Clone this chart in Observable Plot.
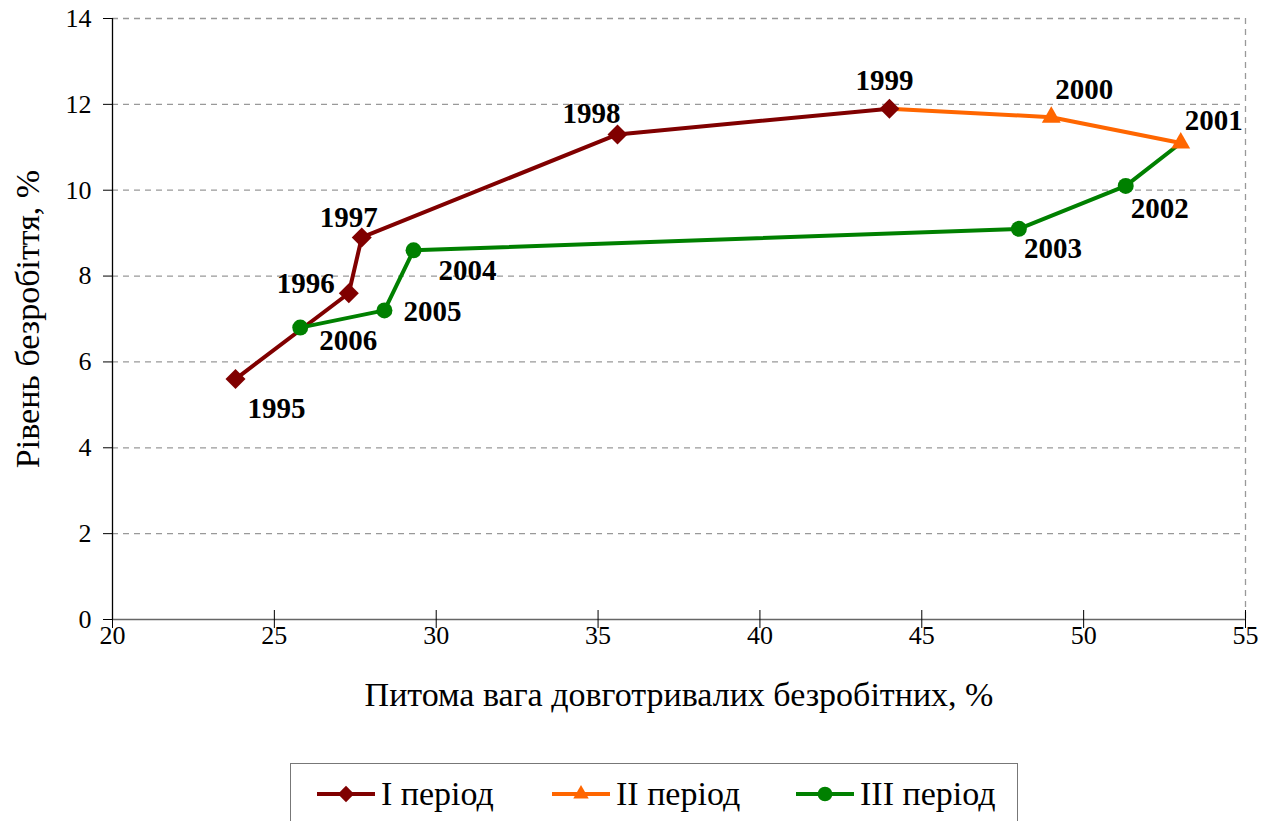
<!DOCTYPE html>
<html>
<head>
<meta charset="utf-8">
<script src="https://cdn.jsdelivr.net/npm/d3@7"></script>
<script src="https://cdn.jsdelivr.net/npm/@observablehq/plot@0.6"></script>
<style>
  body { margin: 0; background: #fff; font-family: 'Liberation Serif', serif; }
</style>
</head>
<body>
<div id="wrap" style="position:relative; width:1273px; height:821px; overflow:hidden;">
  <div id="chart"></div>
  <div id="legend" style="position:absolute; left:290px; top:763px; width:728px; height:80px; border:1.5px solid #777; box-sizing:border-box;"></div>
</div>
<script>
// ---- data ----
const years1 = [1995, 1996, 1997, 1998, 1999];
const share1 = [23.8, 27.3, 27.7, 35.6, 44.0];
const rate1  = [5.6, 7.6, 8.9, 11.3, 11.9];

const years2 = [1999, 2000, 2001];
const share2 = [44.0, 49.0, 53.0];
const rate2  = [11.9, 11.7, 11.1];

const years3 = [2001, 2002, 2003, 2004, 2005, 2006];
const share3 = [53.0, 51.3, 48.0, 29.3, 28.4, 25.8];
const rate3  = [11.1, 10.1, 9.1, 8.6, 7.2, 6.8];

const seriesNames = ["I період", "II період", "III період"];
const xTicks = [20, 25, 30, 35, 40, 45, 50, 55];
const yTicks = [0, 2, 4, 6, 8, 10, 12, 14];
const xTitle = "Питома вага довготривалих безробітних, %";
const yTitle = "Рівень безробіття, %";

// ---- styling ----
const colors = ["#800000", "#FF6600", "#008000"];
const symbols = ["diamond2", "triangle2", "circle"];
const FONT = "'Liberation Serif', serif";
// label placement (pixel offsets) per year
const labelOffset = {
  1995: [41, 30], 1996: [-43, -10], 1997: [-13, -20], 1998: [-26, -21],
  1999: [-5, -28], 2000: [33, -28], 2001: [33, -22], 2002: [34, 23],
  2003: [34, 20], 2004: [54, 20], 2005: [48, 1], 2006: [48, 13]
};

const mk = (years, xs, ys, s) => years.map((yr, i) => ({year: yr, x: xs[i], y: ys[i], s}));
const d1 = mk(years1, share1, rate1, 0);
const d2 = mk(years2, share2, rate2, 1);
const d3s = mk(years3, share3, rate3, 2);

// markers: series II starts at 1999 (shown by series I), series III starts at 2001 (shown by series II)
const m1 = d1;
const m2 = d2.slice(1);
const m3 = d3s.slice(1);

const labels = [...d1, ...d2.slice(1), ...d3s.slice(1)];

const chart = Plot.plot({
  width: 1273,
  height: 750,
  marginLeft: 112,
  marginRight: 28,
  marginTop: 18,
  marginBottom: 131,
  style: { fontFamily: FONT, fontSize: "24px", color: "#000", background: "#fff" },
  x: { domain: [20, 55], ticks: xTicks },
  y: { domain: [0, 14], ticks: yTicks },
  marks: [
    Plot.gridY(yTicks.filter(d => d > 0), { stroke: "#999", strokeOpacity: 1, strokeWidth: 1.3, strokeDasharray: "6,5" }),
    Plot.ruleX([55], { stroke: "#999", strokeWidth: 1.3, strokeDasharray: "6,5" }),
    Plot.ruleY([0], { stroke: "#666", strokeWidth: 1.5 }),
    Plot.ruleX([20], { stroke: "#000", strokeWidth: 1.3 }),
    Plot.axisY({ ticks: yTicks, tickSize: 9, tickPadding: 12, label: null, fontSize: 26, stroke: "#000" }),
    Plot.axisX({ ticks: xTicks, tickSize: 9, tickPadding: -3, label: null, fontSize: 26, stroke: "#000" }),
    Plot.axisX({ ticks: xTicks, tickSize: -9, tickFormat: () => "", label: null, stroke: "#000" }),
    Plot.line(d1, { x: "x", y: "y", stroke: colors[0], strokeWidth: 4 }),
    Plot.line(d2, { x: "x", y: "y", stroke: colors[1], strokeWidth: 4 }),
    Plot.line(d3s, { x: "x", y: "y", stroke: colors[2], strokeWidth: 4 }),
    Plot.dot(m1, { x: "x", y: "y", symbol: () => symbols[0], fill: colors[0], r: 9 }),
    Plot.dot(m2, { x: "x", y: "y", symbol: () => symbols[1], fill: colors[1], r: 9 }),
    Plot.dot(m3, { x: "x", y: "y", symbol: () => symbols[2], fill: colors[2], r: 8 }),
    ...labels.map(d => Plot.text([d], {
      x: "x", y: "y", text: d => String(d.year),
      dx: labelOffset[d.year][0], dy: labelOffset[d.year][1],
      fontWeight: "bold", fontSize: 29, fill: "#000"
    })),
    Plot.text([xTitle], { frameAnchor: "bottom", textAnchor: "middle", dy: 86, fontSize: 34, fill: "#000" }),
    Plot.text([yTitle], { frameAnchor: "left", textAnchor: "middle", dx: -84, rotate: -90, fontSize: 34, fill: "#000" })
  ]
});
document.getElementById("chart").appendChild(chart);

// ---- legend ----
const legend = document.getElementById("legend");
const itemLeft = [26, 261, 505];
seriesNames.forEach((name, i) => {
  const div = document.createElement("div");
  div.style.cssText = "position:absolute; top:11px; display:flex; align-items:center; font-size:34px; color:#000;";
  div.style.fontFamily = FONT;
  div.style.left = itemLeft[i] + "px";
  const w = 58, h = 36;
  const svg = d3.create("svg").attr("width", w).attr("height", h).style("margin-right", "6px");
  svg.append("line").attr("x1", 0).attr("x2", w).attr("y1", h / 2).attr("y2", h / 2)
    .attr("stroke", colors[i]).attr("stroke-width", 4).attr("stroke-linecap", "round");
  const sym = { diamond2: d3.symbolDiamond2, triangle2: d3.symbolTriangle2, circle: d3.symbolCircle }[symbols[i]];
  svg.append("path").attr("d", d3.symbol(sym, 170)()).attr("transform", `translate(${w / 2},${h / 2})`).attr("fill", colors[i]);
  div.appendChild(svg.node());
  const span = document.createElement("span");
  span.textContent = name;
  div.appendChild(span);
  legend.appendChild(div);
});
</script>
</body>
</html>
